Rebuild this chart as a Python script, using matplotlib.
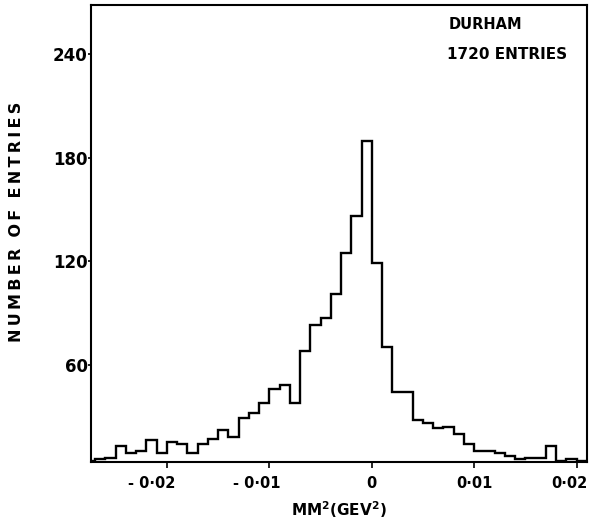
import numpy as np
import matplotlib.pyplot as plt
from matplotlib.transforms import ScaledTranslation

# histogram of missing mass squared, bins of 0.001 GeV^2
bin_edges = np.round(np.arange(-0.028, 0.0221, 0.001), 4)
counts = [4, 5, 6, 13, 9, 10, 16, 9, 15, 14,
          9, 14, 17, 22, 18, 29, 32, 38, 46, 48,
          38, 68, 83, 87, 101, 125, 146, 190, 119, 70,
          44, 44, 28, 26, 23, 24, 20, 14, 10, 10,
          9, 7, 5, 6, 6, 13, 4, 5, 4, 4]

x_ticks = [-0.02, -0.01, 0.0, 0.01, 0.02]
x_tick_labels = ["- 0·02", "- 0·01", "0", "0·01", "0·02"]
y_ticks = [60, 120, 180, 240]
y_tick_labels = ["60", "120", "180", "240"]

plt.rcParams['font.family'] = 'DejaVu Sans'
plt.rcParams['font.weight'] = 'bold'

fig = plt.figure(figsize=(5.89, 5.26), dpi=100)
ax = fig.add_axes([0.1545, 0.1217, 0.842, 0.869])

ax.stairs(counts, bin_edges, baseline=None, color='black', linewidth=1.7)

ax.set_xlim(-0.0274, 0.021)
ax.set_ylim(3.5, 268.7)

ax.set_xticks(x_ticks)
ax.set_xticklabels(x_tick_labels, fontsize=10.5, fontweight='bold')
ax.set_yticks(y_ticks)
ax.set_yticklabels(y_tick_labels, fontsize=12, fontweight='bold')
ax.tick_params(axis='x', direction='out', length=4, width=1.2, pad=6)
ax.tick_params(axis='y', direction='out', length=2, width=1.2, pad=0.5)

# nudge the signed labels left so the digits sit near their ticks
shifts = [-11, -9, 0, 0, -5]
for lab, dx in zip(ax.get_xticklabels(), shifts):
    lab.set_transform(lab.get_transform() + ScaledTranslation(dx / 72, 0, fig.dpi_scale_trans))

for s in ax.spines.values():
    s.set_linewidth(1.5)

ax.set_xlabel("MM$^{\\mathbf{2}}$(GEV$^{\\mathbf{2}}$)", fontsize=11,
              fontweight='bold', labelpad=6)
ylab = "\u2009".join("NUMBER") + "  " + "\u2009".join("OF") + "  " + "\u2009".join("ENTRIES")
ax.set_ylabel(ylab, fontsize=11.5, fontweight='bold')
ax.yaxis.set_label_coords(-0.135, 0.525)

ax.text(0.722, 0.957, "DURHAM", transform=ax.transAxes, fontsize=10.5,
        fontweight='bold', va='center', ha='left')
ax.text(0.718, 0.891, "1720 ENTRIES", transform=ax.transAxes, fontsize=11,
        fontweight='bold', va='center', ha='left')

fig.savefig("out.png", dpi=100)
